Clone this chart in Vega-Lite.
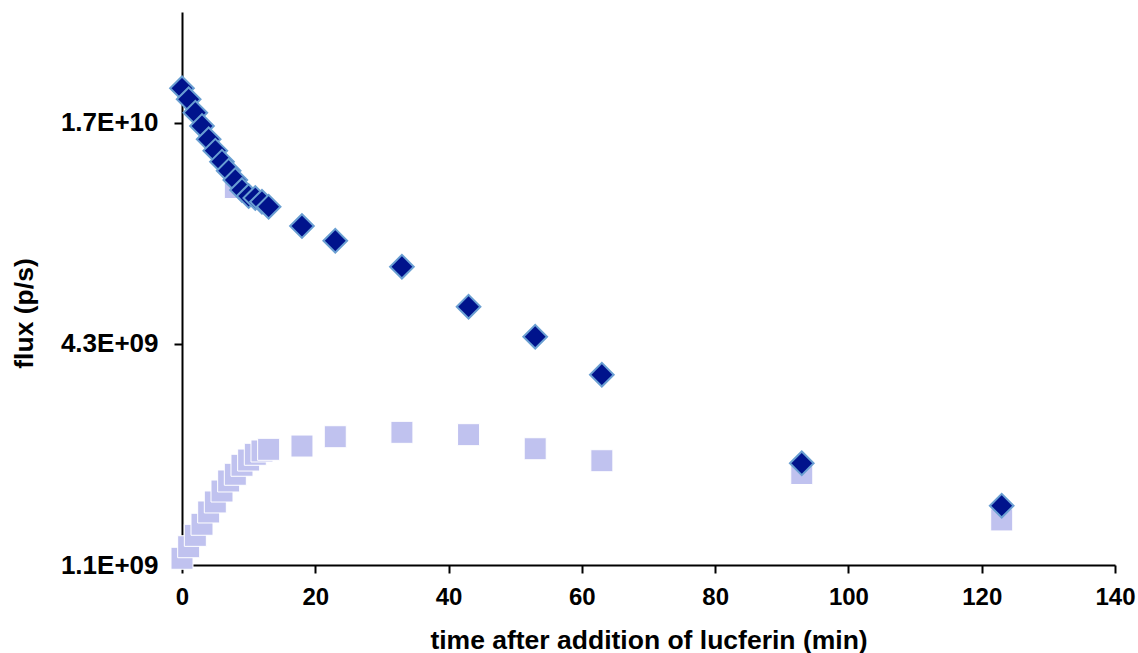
{
  "$schema": "https://vega.github.io/schema/vega-lite/v6.json",
  "width": 933,
  "height": 553,
  "autosize": "none",
  "padding": {"left": 182, "top": 12, "right": 23, "bottom": 88},
  "background": "white",
  "config": {"view": {"stroke": null}, "font": "Liberation Sans"},
  "data": {"values": [
    {"t": 0, "flux": 2.130e10, "series": "A"},
    {"t": 1, "flux": 1.988e10, "series": "A"},
    {"t": 2, "flux": 1.828e10, "series": "A"},
    {"t": 3, "flux": 1.682e10, "series": "A"},
    {"t": 4, "flux": 1.547e10, "series": "A"},
    {"t": 5, "flux": 1.441e10, "series": "A"},
    {"t": 6, "flux": 1.345e10, "series": "A"},
    {"t": 7, "flux": 1.271e10, "series": "A"},
    {"t": 8, "flux": 1.199e10, "series": "A"},
    {"t": 9, "flux": 1.126e10, "series": "A"},
    {"t": 10, "flux": 1.084e10, "series": "A"},
    {"t": 11, "flux": 1.071e10, "series": "A"},
    {"t": 12, "flux": 1.046e10, "series": "A"},
    {"t": 13, "flux": 1.014e10, "series": "A"},
    {"t": 18, "flux": 8.986e9, "series": "A"},
    {"t": 23, "flux": 8.195e9, "series": "A"},
    {"t": 33, "flux": 6.963e9, "series": "A"},
    {"t": 43, "flux": 5.419e9, "series": "A"},
    {"t": 53, "flux": 4.490e9, "series": "A"},
    {"t": 63, "flux": 3.539e9, "series": "A"},
    {"t": 93, "flux": 2.031e9, "series": "A"},
    {"t": 123, "flux": 1.557e9, "series": "A"},
    {"t": 0, "flux": 1.120e9, "series": "B"},
    {"t": 1, "flux": 1.204e9, "series": "B"},
    {"t": 2, "flux": 1.293e9, "series": "B"},
    {"t": 3, "flux": 1.386e9, "series": "B"},
    {"t": 4, "flux": 1.497e9, "series": "B"},
    {"t": 5, "flux": 1.594e9, "series": "B"},
    {"t": 6, "flux": 1.707e9, "series": "B"},
    {"t": 7, "flux": 1.818e9, "series": "B"},
    {"t": 8, "flux": 1.896e9, "series": "B"},
    {"t": 8, "flux": 1.144e10, "series": "B"},
    {"t": 9, "flux": 2.006e9, "series": "B"},
    {"t": 10, "flux": 2.073e9, "series": "B"},
    {"t": 11, "flux": 2.149e9, "series": "B"},
    {"t": 12, "flux": 2.194e9, "series": "B"},
    {"t": 13, "flux": 2.217e9, "series": "B"},
    {"t": 18, "flux": 2.263e9, "series": "B"},
    {"t": 23, "flux": 2.399e9, "series": "B"},
    {"t": 33, "flux": 2.466e9, "series": "B"},
    {"t": 43, "flux": 2.430e9, "series": "B"},
    {"t": 53, "flux": 2.225e9, "series": "B"},
    {"t": 63, "flux": 2.064e9, "series": "B"},
    {"t": 93, "flux": 1.905e9, "series": "B"},
    {"t": 123, "flux": 1.424e9, "series": "B"}
  ]},
  "encoding": {
    "x": {
      "field": "t",
      "type": "quantitative",
      "scale": {"domain": [0, 140], "nice": false, "zero": false},
      "axis": {
        "values": [0, 20, 40, 60, 80, 100, 120, 140],
        "title": "time after addition of lucferin (min)",
        "grid": false,
        "domainColor": "black",
        "domainWidth": 2,
        "tickColor": "black",
        "tickWidth": 2,
        "tickSize": 8,
        "labelFont": "Liberation Sans",
        "labelFontWeight": "bold",
        "labelFontSize": 24,
        "labelColor": "black",
        "labelPadding": 12,
        "labelFlush": false,
        "titleFont": "Liberation Sans",
        "titleFontWeight": "bold",
        "titleFontSize": 26.5,
        "titleColor": "black",
        "titlePadding": 18
      }
    },
    "y": {
      "field": "flux",
      "type": "quantitative",
      "scale": {"type": "log", "base": 4, "domain": [1073741824, 34359738368], "nice": false},
      "axis": {
        "values": [1073741824, 4294967296, 17179869184],
        "labelExpr": "datum.value < 2e9 ? '1.1E+09' : (datum.value < 1e10 ? '4.3E+09' : '1.7E+10')",
        "title": "flux (p/s)",
        "grid": false,
        "domainColor": "black",
        "domainWidth": 2,
        "tickColor": "black",
        "tickWidth": 2,
        "tickSize": 8,
        "labelFont": "Liberation Sans",
        "labelFontWeight": "bold",
        "labelFontSize": 26,
        "labelColor": "black",
        "labelPadding": 16,
        "labelFlush": false,
        "titleFont": "Liberation Sans",
        "titleFontWeight": "bold",
        "titleFontSize": 26.5,
        "titleColor": "black",
        "titleBaseline": "middle",
        "titleX": -158,
        "titleY": 301
      }
    }
  },
  "layer": [
    {
      "transform": [{"filter": "datum.series === 'B'"}],
      "mark": {"type": "point", "shape": "square", "filled": true, "size": 484, "fill": "#c0c2ef", "stroke": "white", "strokeWidth": 1, "opacity": 1}
    },
    {
      "transform": [{"filter": "datum.series === 'A'"}],
      "mark": {"type": "point", "shape": "diamond", "filled": true, "size": 560, "fill": "#00138c", "stroke": "#6a9fd2", "strokeWidth": 2, "opacity": 1}
    }
  ]
}
